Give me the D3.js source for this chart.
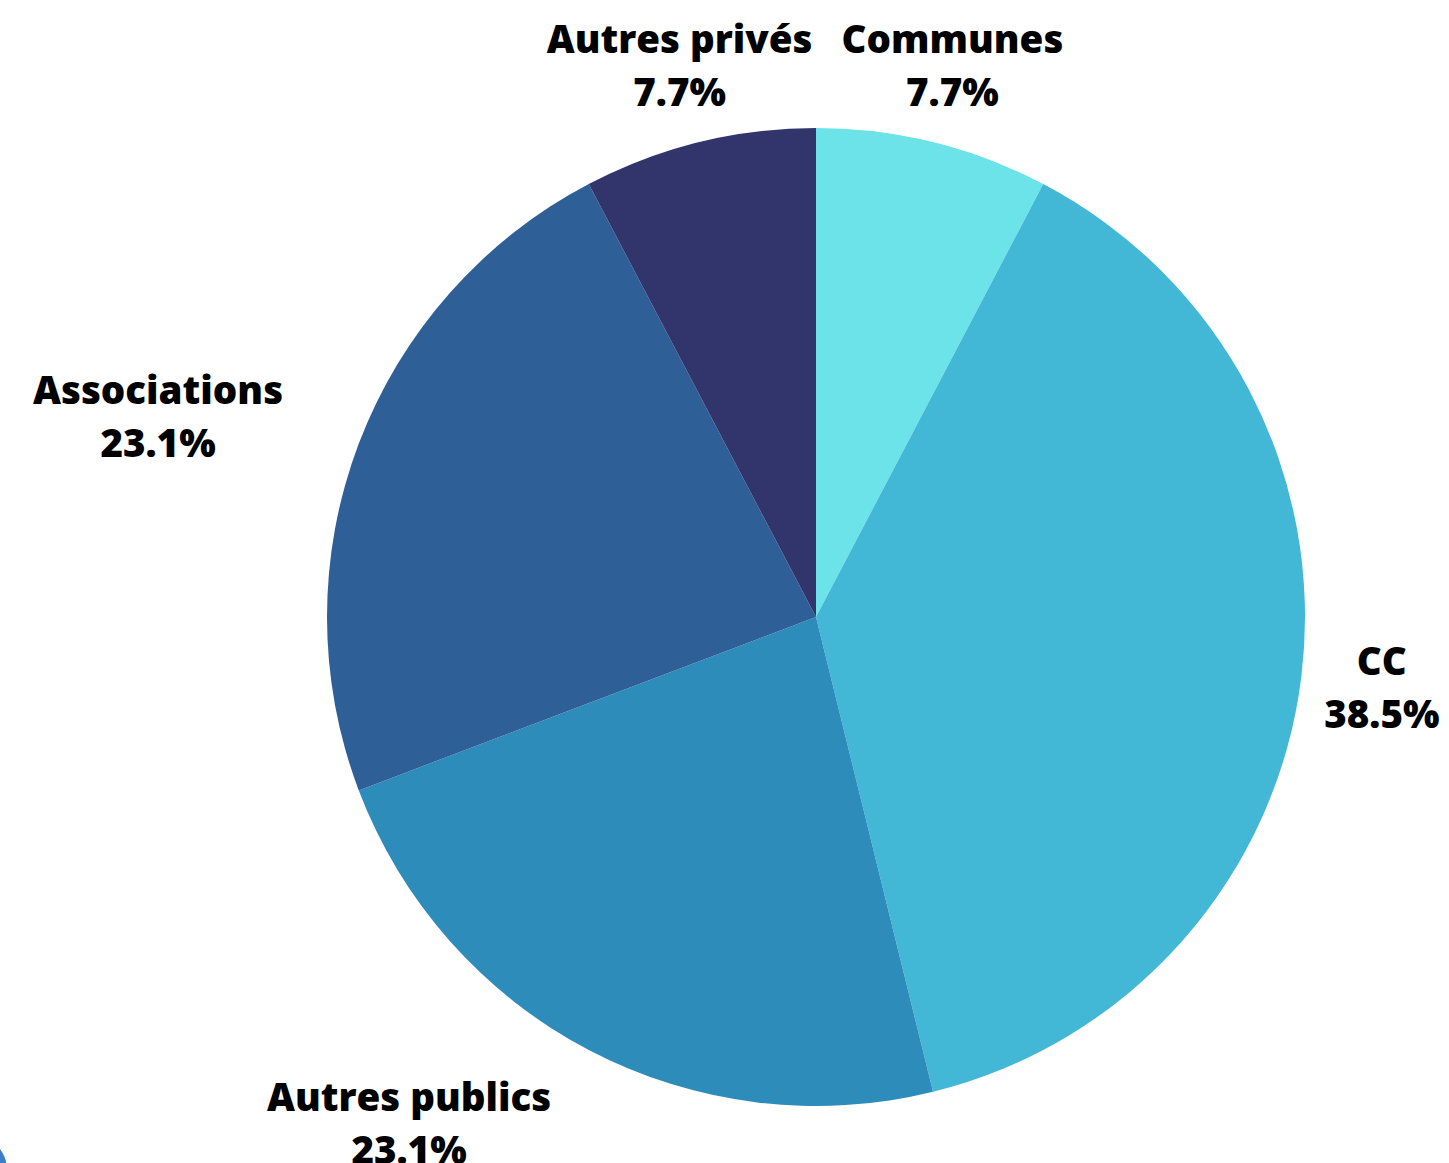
<!DOCTYPE html>
<html lang="fr">
<head>
<meta charset="utf-8">
<title>Répartition</title>
<script src="https://cdn.jsdelivr.net/npm/d3@7/dist/d3.min.js"></script>
<style>
  body { margin: 0; background: #fff; }
  svg { display: block; }
  .lbl { font-family: "Open Sans", "DejaVu Sans", sans-serif; font-weight: 800; font-size: 38.5px; fill: #000; }
</style>
</head>
<body>
<svg id="chart" width="1449" height="1163"></svg>
<script>
// data
var categories = ["Communes", "CC", "Autres publics", "Associations", "Autres privés"];
var counts     = [1, 5, 3, 3, 1];
var colors     = ["#6be3e8", "#42b7d6", "#2e8cba", "#2f5f97", "#31356b"];

var svg = d3.select("#chart");
var cx = 816, cy = 617, radius = 489, labelR = 570;

var total = d3.sum(counts);
var rows = categories.map(function(c, i) { return {name: c, value: counts[i], color: colors[i]}; });

var pie = d3.pie().sort(null).value(function(d) { return d.value; });
var arc = d3.arc().innerRadius(0).outerRadius(radius);

var g = svg.append("g").attr("transform", "translate(" + cx + "," + cy + ")");

var arcs = pie(rows);

g.selectAll("path.slice")
  .data(arcs)
  .enter().append("path")
  .attr("class", "slice")
  .attr("d", arc)
  .attr("fill", function(d) { return d.data.color; });

// labels outside the pie, two lines: name and percentage
var labels = g.selectAll("g.lbl")
  .data(arcs)
  .enter().append("g");

labels.each(function(d) {
  var a = (d.startAngle + d.endAngle) / 2;
  var x = labelR * Math.sin(a), y = -labelR * Math.cos(a);
  var sel = d3.select(this);
  var t1 = sel.append("text").attr("class", "lbl").attr("text-anchor", "middle")
    .attr("y", y - 11).text(d.data.name);
  var t2 = sel.append("text").attr("class", "lbl").attr("text-anchor", "middle")
    .attr("y", y + 42).text(d3.format(".1%")(d.data.value / total));
  var w = Math.max(t1.node().getComputedTextLength(), t2.node().getComputedTextLength());
  // far-left labels hang off their anchor point (right-aligned block)
  var bx = x < -200 ? x - w / 2 : x;
  t1.attr("x", bx); t2.attr("x", bx);
});

// stray blue corner from the original capture
svg.append("circle").attr("cx", -28).attr("cy", 1170).attr("r", 35).attr("fill", "#3b7fc8");
</script>
</body>
</html>
